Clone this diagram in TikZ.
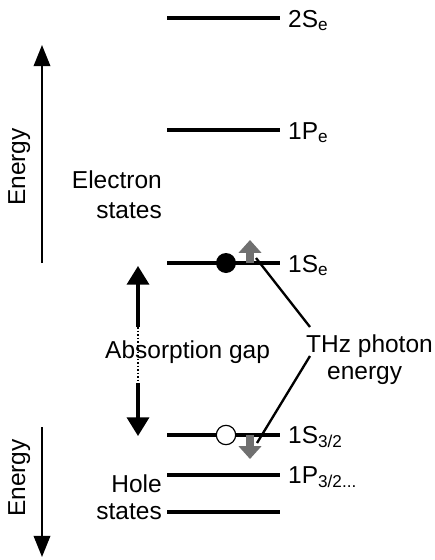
\documentclass[tikz,border=0pt]{standalone}
\usepackage{fontspec}
\setmainfont{Liberation Sans}
\usetikzlibrary{arrows.meta}
\definecolor{spingray}{RGB}{112,112,112}

\begin{document}
\begin{tikzpicture}[x=0.03cm, y=-0.03cm,
  every node/.style={font=\fontsize{20.9}{24}\selectfont, inner sep=0pt},
  statebar/.style={line width=2.6pt},
  statelabel/.style={anchor=base west},
  enarrow/.style={line width=1.9pt, -{Triangle[length=18pt, width=14pt]}},
  gaparrow/.style={line width=2.6pt, -{Triangle[length=16pt, width=19pt]}},
  spinarrow/.style={draw=spingray, line width=7pt, -{Triangle[length=11pt, width=19pt]}}]
  \useasboundingbox (0,0) rectangle (434,560);

  % energy axes
  \coordinate (upbot) at (42,263);
  \coordinate (uptop) at (42,45);
  \draw[enarrow] (upbot) -- (uptop);
  \node[rotate=90, anchor=base] (enup) at (25,167) {Energy};
  \coordinate (dntop) at (42,427);
  \coordinate (dnbot) at (42,557);
  \draw[enarrow] (dntop) -- (dnbot);
  \node[rotate=90, anchor=base] (endn) at (25,478) {Energy};

  % electron levels
  \draw[statebar] (167,18) -- (280,18);
  \node[statelabel] (e2s) at (288,27) {2S\textsubscript{e}};
  \draw[statebar] (167,130) -- (280,130);
  \node[statelabel] (e1p) at (288,139) {1P\textsubscript{e}};
  \draw[statebar] (167,263) -- (280,263);
  \node[statelabel] (e1s) at (288,272) {1S\textsubscript{e}};
  \node[anchor=base east] (elec) at (162,188) {Electron};
  \node[anchor=base east] (elecst) at (162,218) {states};

  % hole levels
  \draw[statebar] (167,435) -- (280,435);
  \node[statelabel] (h1s) at (288,443) {1S\textsubscript{3/2}};
  \draw[statebar] (167,475) -- (280,475);
  \node[statelabel] (h1p) at (288,483) {1P\textsubscript{3/2...}};
  \draw[statebar] (167,512) -- (280,512);
  \node[anchor=base east] (holetxt) at (162,492) {Hole};
  \node[anchor=base east] (holest) at (162,519) {states};

  % carriers
  \node[circle, fill=black, minimum size=0.6cm] (electron) at (226,263) {};
  \node[circle, draw, fill=white, line width=1pt, minimum size=0.58cm] (hole) at (226,435) {};

  % absorption gap
  \coordinate (gaptop) at (138,266);
  \coordinate (gapd1) at (138,327);
  \coordinate (gapd2) at (138,383);
  \coordinate (gapbot) at (138,436);
  \draw[gaparrow] (gapd1) -- (gaptop);
  \draw[gaparrow] (gapd2) -- (gapbot);
  \draw[line width=2pt, dash pattern=on 1.5pt off 1.5pt] (gapd1) -- (gapd2);
  \node[anchor=base west] (gap) at (105,358) {Absorption gap};

  % THz transition
  \draw[spinarrow] (250,263) -- (250,240);
  \draw[spinarrow] (250,435) -- (250,459);
  \node[anchor=base west] (thz) at (306,352) {THz photon};
  \node[anchor=base west] (thzen) at (327,379) {energy};
  \coordinate (thzup) at (310,327);
  \coordinate (thzdn) at (310,356);
  \coordinate (e1send) at (256,258);
  \coordinate (h1send) at (257,443);
  \draw[line width=2pt] (e1send) -- (thzup);
  \draw[line width=2pt] (thzdn) -- (h1send);
\end{tikzpicture}
\end{document}
